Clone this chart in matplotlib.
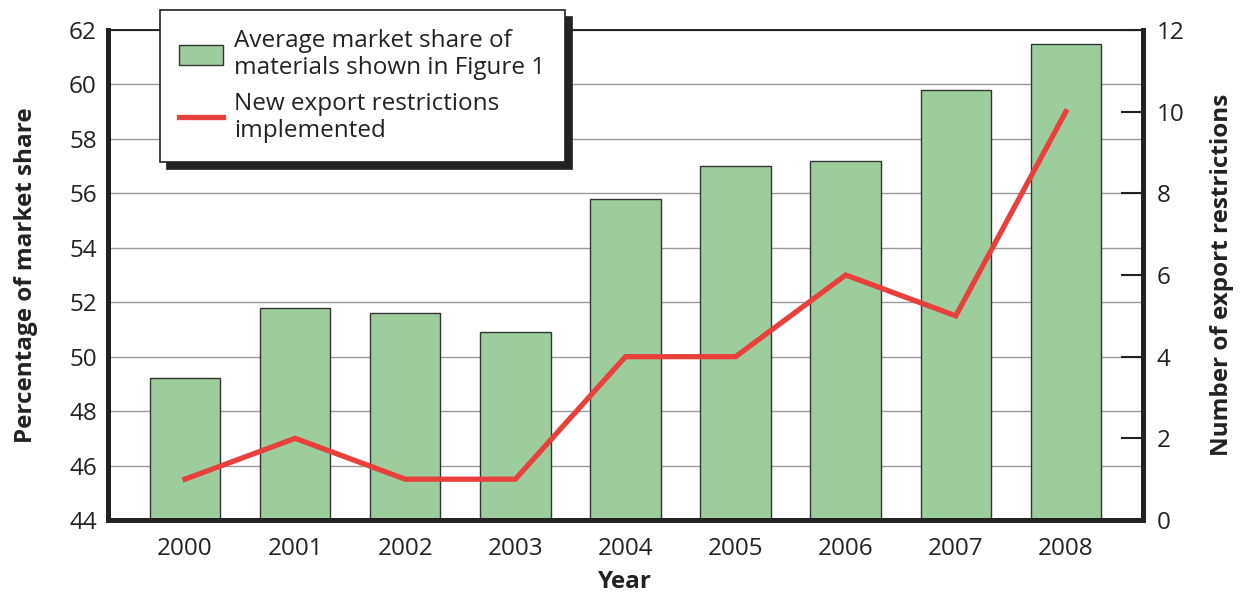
import matplotlib
matplotlib.use("Agg")
import matplotlib.pyplot as plt
import numpy as np

years = ["2000", "2001", "2002", "2003", "2004", "2005", "2006", "2007", "2008"]
market_share = [49.2, 51.8, 51.6, 50.9, 55.8, 57.0, 57.2, 59.8, 61.5]
restrictions = [1, 2, 1, 1, 4, 4, 6, 5, 10]

plt.rcParams['font.family'] = ['Open Sans', 'DejaVu Sans']
TXT = '#222222'
FS = 17.5

fig = plt.figure(figsize=(12.41, 5.96), dpi=100)
ax = fig.add_axes([0.087, 0.1275, 0.834, 0.8222])
x = np.arange(len(years))

ax.set_axisbelow(True)
ax.grid(axis='y', color='#999999', linewidth=1.0)
bars = ax.bar(x, market_share, width=0.64, color='#9ecd9d', edgecolor='#333333',
              linewidth=1.0, zorder=2, label='Average market share of\nmaterials shown in Figure 1')
ax.set_ylim(44, 62)
ax.set_yticks(np.arange(44, 63, 2))
ax.set_xlim(-0.7, 8.7)
ax.set_xticks(x)
ax.set_xticklabels(years)
ax.tick_params(axis='both', length=0, labelsize=FS, labelcolor=TXT)
ax.tick_params(axis='x', pad=12)
ax.tick_params(axis='y', pad=8)
ax.set_ylabel('Percentage of market share', fontsize=FS, fontweight='bold', color=TXT, labelpad=22)
ax.set_xlabel('Year', fontsize=FS, fontweight='bold', color=TXT, labelpad=7)

ax2 = ax.twinx()
line, = ax2.plot(x, restrictions, color='#e8413b', linewidth=3.8, zorder=5,
                 solid_joinstyle='miter', label='New export restrictions\nimplemented')
ax2.set_ylim(0, 12)
ax2.set_yticks(np.arange(0, 13, 2))
ax2.tick_params(axis='y', direction='in', length=16, width=1.5, color='#222222',
                labelsize=FS, labelcolor=TXT, pad=10)
ax2.set_ylabel('Number of export restrictions', fontsize=FS, fontweight='bold', color=TXT,
               labelpad=18, rotation=90)

for a in (ax, ax2):
    a.spines['left'].set_linewidth(3.5)
    a.spines['bottom'].set_linewidth(3.5)
    a.spines['right'].set_linewidth(3.5)
    a.spines['top'].set_linewidth(1.2)
    for s in a.spines.values():
        s.set_color('#222222')

leg = ax2.legend(handles=[bars, line], loc='upper left', bbox_to_anchor=(0.0502, 1.0408),
                 fontsize=FS, frameon=True, fancybox=False, framealpha=1,
                 edgecolor='#222222', borderpad=0.8, borderaxespad=0,
                 handlelength=1.8, handleheight=0.9,
                 labelspacing=0.5, handletextpad=0.45,
                 shadow={'ox': 5, 'oy': -5, 'color': '#222222', 'alpha': 1})
leg.get_frame().set_linewidth(1.2)
for t in leg.get_texts():
    t.set_color(TXT)
    t.set_linespacing(1.15)

fig.savefig('out.png', dpi=100)
